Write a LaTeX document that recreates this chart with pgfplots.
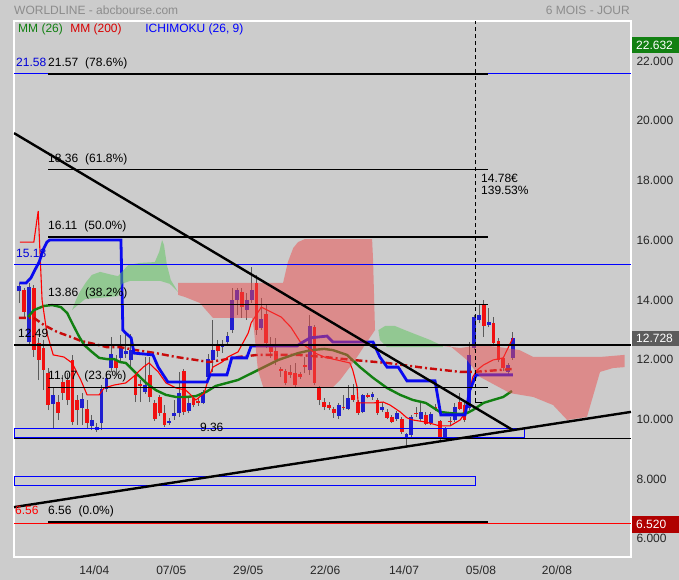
\documentclass[border=0pt]{standalone}
\usepackage{pgfplots}
\pgfplotsset{compat=1.18}
\usepackage{pgfplotstable}
\usepackage{fontspec}
\setmainfont{Liberation Sans}

\definecolor{bg}{HTML}{CCCCCC}
\definecolor{candleup}{HTML}{1F1FD0}
\definecolor{candledn}{HTML}{F01010}
\definecolor{wick}{HTML}{5A5A5A}
\definecolor{kijun}{HTML}{0A0AF0}
\definecolor{mmgreen}{HTML}{128012}
\definecolor{mmred}{HTML}{C80A0A}
\definecolor{cloudred}{HTML}{EC4C4C}
\definecolor{cloudgreen}{HTML}{5AC65A}
\definecolor{titlegray}{HTML}{8C8C8C}
\definecolor{boxgray}{HTML}{5C5C5C}
\definecolor{boxred}{HTML}{B00000}
\newcommand{\fs}{\fontsize{12}{14}\selectfont}

% candles: k = trading day index, open / high / low / close
\pgfplotstableread{
k o h l c
0 14.30 14.57 13.90 14.47
2 12.59 14.57 12.49 14.43
7 10.52 11.08 9.71 10.82
13 10.38 10.88 9.81 10.68
15 9.78 10.15 9.64 9.98
16 9.64 9.88 9.58 9.75
17 9.88 11.15 9.64 11.02
18 11.02 11.59 10.92 11.39
19 11.72 12.76 11.59 12.19
21 12.06 12.83 11.95 12.39
22 12.19 12.89 12.05 12.29
23 11.99 12.86 11.75 12.32
26 10.92 12.09 10.85 11.15
31 9.88 10.05 9.81 9.95
32 10.11 10.65 9.98 10.21
33 10.21 11.59 10.08 10.88
35 10.28 10.70 10.20 10.55
38 10.55 11.00 10.50 10.92
39 11.42 12.20 11.35 12.02
40 11.99 13.33 11.60 12.32
42 12.42 12.66 12.22 12.49
43 12.59 12.93 12.50 12.79
44 12.99 14.40 12.90 14.00
45 14.00 14.40 13.50 14.33
47 13.66 14.23 13.33 14.00
48 14.00 15.10 13.90 14.33
50 13.06 14.07 12.99 13.36
60 11.65 13.50 11.49 13.13
66 10.11 10.55 10.01 10.48
68 10.35 11.15 10.31 10.72
71 10.25 10.85 10.20 10.82
73 10.75 10.92 10.65 10.85
75 10.31 10.58 10.25 10.42
78 10.01 10.28 9.95 10.21
80 9.41 9.55 9.07 9.51
81 9.48 10.15 9.41 10.08
83 10.01 10.55 9.95 10.25
85 9.88 10.25 9.81 10.18
88 9.41 9.75 9.35 9.71
90 9.98 10.55 9.91 10.42
93 10.38 12.59 10.31 12.16
94 12.39 13.50 12.32 13.43
95 13.33 13.83 13.23 13.50
97 13.16 13.73 13.09 13.26
101 11.59 11.89 11.52 11.82
102 12.06 12.93 11.99 12.73
}\up

\pgfplotstableread{
k o h l c
1 14.33 14.40 13.43 13.60
3 14.40 14.50 12.09 12.32
4 12.56 12.73 11.32 11.99
5 12.39 12.66 10.98 11.65
6 11.55 11.72 10.31 10.48
8 10.58 10.82 9.98 10.21
9 11.25 11.49 10.65 10.88
10 11.32 11.55 10.48 10.65
11 11.99 12.16 9.81 9.91
12 10.65 10.82 9.81 10.31
14 10.35 10.65 9.71 9.88
20 11.99 12.16 11.49 11.72
24 11.49 11.55 10.58 10.82
25 11.17 11.32 10.58 11.13
27 11.49 12.09 10.58 10.75
28 10.55 10.65 9.95 10.01
29 10.75 10.80 10.10 10.21
30 10.21 10.48 9.75 9.81
34 11.62 11.69 10.15 10.25
36 10.72 10.82 10.40 10.48
37 10.60 10.72 10.45 10.56
41 12.52 12.66 12.10 12.29
46 14.27 14.40 13.40 13.76
49 14.57 14.84 12.83 12.99
51 13.53 13.83 12.39 12.56
52 12.46 12.76 12.06 12.26
53 12.29 12.73 11.82 11.99
54 11.69 11.75 11.42 11.62
55 11.62 11.69 11.15 11.22
56 11.59 11.82 11.39 11.49
57 11.55 11.89 11.08 11.15
58 11.52 11.60 11.35 11.42
59 11.82 12.09 11.55 11.75
61 13.09 13.16 11.15 11.22
62 11.05 11.12 10.48 10.65
63 10.58 10.72 10.31 10.42
64 10.48 10.58 10.31 10.38
65 10.35 10.42 10.05 10.21
67 10.42 10.82 10.31 10.38
69 10.82 11.19 10.58 10.65
70 10.58 10.65 10.15 10.21
72 10.82 10.88 10.70 10.75
74 10.65 10.70 10.15 10.21
76 10.25 10.35 10.00 10.05
77 10.08 10.15 9.88 9.91
79 10.01 10.08 9.51 9.58
82 10.21 10.42 10.08 10.17
84 10.15 10.25 9.80 9.85
86 10.42 10.50 10.28 10.35
87 9.95 9.98 9.31 9.41
89 9.95 10.08 9.81 9.91
91 10.58 10.88 10.31 10.35
92 10.48 10.55 9.91 9.98
96 13.83 14.00 12.76 13.13
98 13.23 13.43 12.49 12.56
99 12.63 12.73 11.92 11.99
100 12.06 12.09 11.62 11.72
}\dn

\begin{document}
\begin{tikzpicture}
\fill[bg] (0pt,0pt) rectangle (679pt,580pt);

\begin{axis}[
  at={(14pt,23pt)}, anchor=south west,
  width=617pt, height=536pt, scale only axis,
  xmin=-1.1, xmax=126.4, ymin=5.389, ymax=23.346,
  axis line style={white, line width=1.4pt},
  tick style={draw=none},
  ytick={6,8,...,22},
  yticklabels={6.000,8.000,10.000,12.000,14.000,16.000,18.000,20.000,22.000},
  yticklabel pos=right,
  yticklabel style={xshift=2pt},
  xtick={15.5,31.4,47.3,63.2,79.5,95.4,111.1},
  xticklabels={14/04,07/05,29/05,22/06,14/07,05/08,20/08},
  xticklabel style={yshift=-5pt},
  ticklabel style={font=\fs, text=black!85},
]

% wicks
\addplot[quiver={u=0, v=\thisrow{h}-\thisrow{l}}, wick, line width=1pt] table[x=k, y=l] {\up};
\addplot[quiver={u=0, v=\thisrow{h}-\thisrow{l}}, wick, line width=1pt] table[x=k, y=l] {\dn};
% bodies
\addplot[quiver={u=0, v=\thisrow{c}-\thisrow{o}}, candleup, line width=3.8pt] table[x=k, y=o] {\up};
\addplot[quiver={u=0, v=\thisrow{c}-\thisrow{o}}, candledn, line width=3.8pt] table[x=k, y=o] {\dn};

% MM 200
\addplot[mmred, line width=2.4pt, dash pattern=on 7pt off 3pt on 2pt off 3pt] coordinates {
(-0.1,13.40) (3.0,13.40) (5.1,13.16) (7.8,12.93) (10.7,12.76) (12.7,12.63) (15.4,12.53)
(18.1,12.42) (20.8,12.42) (24.1,12.32) (28.2,12.22) (32.4,12.09) (36.5,11.99) (39.2,11.92)
(41.9,11.99) (45.2,12.09) (49.3,12.16) (57.6,12.16) (63.0,12.09) (68.9,11.99) (76.0,11.89)
(84.0,11.72) (91.1,11.59) (93.7,11.59) (96.6,11.62) (102,11.69)};

% MM 26
\addplot[mmgreen, line width=2.4pt] coordinates {
(1.8,13.43) (3.0,13.66) (5.1,13.80) (6.8,13.83) (8.6,13.76) (9.9,13.56) (10.9,13.23)
(12.3,12.79) (13.4,12.49) (15.0,12.26) (16.5,12.06) (18.1,12.02) (19.6,12.02) (20.8,11.92)
(22.0,11.89) (24.1,11.55) (26.2,11.22) (28.2,10.98) (30.3,10.82) (32.4,10.75) (34.4,10.75)
(36.5,10.78) (38.6,10.92) (40.6,11.12) (45.2,11.32) (49.3,11.65) (53.5,11.99) (57.6,12.22)
(60.3,12.32) (63.0,12.36) (64.8,12.32) (67.7,12.16) (70.4,11.75) (73.1,11.39) (76.0,11.05)
(78.7,10.82) (81.3,10.65) (84.0,10.55) (86.9,10.25) (89.0,10.21) (91.1,10.18) (92.5,10.21)
(93.7,10.31) (95.9,10.55) (97.9,10.65) (100,10.75) (101.8,10.95)};

% Ichimoku: tenkan (red, thin)
\addplot[red, line width=1.1pt] coordinates {
(0.1,15.94) (3.0,15.94) (3.9,16.98) (4.7,14.00) (5.7,12.89) (7.0,12.16) (9.2,12.09)
(10.9,11.89) (12.7,11.32) (14.0,10.82) (16.5,10.82) (17.5,11.05) (19.6,11.15) (22.0,11.22)
(23.5,11.42) (25.6,11.75) (26.8,11.89) (28.7,11.59) (30.3,11.22) (32.4,11.05) (34.4,10.98)
(36.5,10.65) (38.2,10.88) (39.2,11.42) (40.0,11.75) (41.9,11.92) (43.1,12.09) (45.2,12.26)
(47.3,12.89) (47.9,13.23) (50.0,13.76) (52.0,13.60) (54.1,13.43) (56.1,13.09) (58.2,12.56)
(59.7,12.39) (61.1,12.22) (63.0,12.09) (64.8,12.02) (68.3,11.89) (68.9,11.65) (69.8,11.08)
(70.0,10.55) (73.1,10.55) (75.2,10.58) (76.6,10.48) (78.7,10.25) (80.1,10.05) (81.3,9.98)
(84.0,9.91) (86.9,9.78) (89.0,9.78) (91.1,9.98) (92.1,10.21) (93.1,10.98) (93.7,11.42)
(94.6,11.65) (95.9,11.82) (97.9,11.99) (100,12.06) (102,12.73)};

% Ichimoku: kijun (blue, thick)
\addplot[kijun, line width=2.8pt] coordinates {
(0,14.57) (1.4,14.57) (2.4,14.74) (3.2,15.00) (4.1,15.27) (4.9,15.67) (5.7,15.94) (6.3,16.01)
(21.0,16.01) (21.4,12.99) (22.0,12.89) (23.1,12.73) (23.7,12.22) (27.6,12.16) (28.7,11.75)
(30.7,11.25) (38.8,11.25) (39.4,11.49) (42.9,11.49) (43.9,12.06) (47.0,12.06) (47.9,12.46)
(57.4,12.46) (58.6,12.59) (60.1,12.73) (63.6,12.79) (64.8,12.59) (73.1,12.59) (74.5,12.09)
(76.0,11.75) (78.3,11.75) (80.1,11.29) (85.9,11.29) (87.1,10.15) (92.1,10.15) (93.1,10.98)
(94.4,11.49) (102,11.49)};

% Ichimoku cloud
\addplot[draw=none, fill=cloudgreen, fill opacity=0.5] coordinates {
(10.9,13.66) (11.7,14.00) (12.5,14.27) (13.8,14.60) (15.0,14.84) (16.7,14.94) (19.2,14.84)
(20.4,14.80) (21.2,14.94) (22.5,15.17) (24.9,15.24) (28.0,15.27) (28.9,15.61) (29.5,16.01)
(29.9,15.84) (30.5,15.17) (31.3,14.67) (32.2,14.43) (32.8,14.27) (31.1,14.54) (29.1,14.64)
(22.9,14.64) (21.2,14.54) (20.4,14.13) (16.7,14.07) (13.6,14.03) (12.1,13.83)};
\addplot[draw=none, fill=cloudred, fill opacity=0.5] coordinates {
(32.8,14.57) (54.5,14.57) (55.5,15.27) (56.6,15.74) (57.6,15.94) (59.0,16.04) (72.9,16.04)
(73.1,15.34) (73.5,12.99) (71.4,12.49) (69.8,12.09) (68.3,11.75) (66.3,11.32) (64.8,11.08)
(50.4,11.08) (49.3,11.65) (48.5,12.99) (48.1,13.40) (40.0,13.40) (37.3,13.90) (34.2,14.10)
(32.8,14.17)};
\addplot[draw=none, fill=cloudgreen, fill opacity=0.5] coordinates {
(74.2,12.99) (75.6,13.13) (77.6,13.13) (79.7,12.99) (82.2,12.83) (84.9,12.66) (87.5,12.46)
(87.5,12.42) (76.0,12.42) (74.5,12.66)};
\addplot[draw=none, fill=cloudred, fill opacity=0.5] coordinates {
(87.5,12.46) (91.1,12.39) (95.2,12.49) (99.3,12.42) (103.4,12.32) (106.2,12.09) (111.7,12.09)
(120,12.09) (125.1,12.16) (125.1,11.75) (122.7,11.72) (120,11.59) (117.3,10.08) (113.2,9.98)
(110.3,10.48) (106.2,10.75) (101.4,10.88) (95.2,11.42) (92.5,11.99) (89.0,12.46)};

% horizontal levels
\addplot[blue, line width=1pt] coordinates {(-1.1,21.58) (126.4,21.58)};
\addplot[blue, line width=1pt] coordinates {(-1.1,15.18) (126.4,15.18)};
\addplot[red, line width=1pt] coordinates {(-1.1,6.52) (126.4,6.52)};
\addplot[black, line width=1.2pt] coordinates {(-1.1,12.49) (126.4,12.49)};
\addplot[black, line width=1.2pt] coordinates {(-1.1,9.36) (126.4,9.36)};
\addplot[black, line width=1.3pt] coordinates {(5.93,21.57) (96.8,21.57)};
\addplot[black, line width=1.2pt] coordinates {(5.93,18.36) (96.8,18.36)};
\addplot[black, line width=1.2pt] coordinates {(5.93,16.11) (96.8,16.11)};
\addplot[black, line width=1.2pt] coordinates {(5.93,13.86) (96.8,13.86)};
\addplot[black, line width=1.2pt] coordinates {(5.93,11.07) (96.8,11.07)};
\addplot[black, line width=1.2pt] coordinates {(5.93,6.56) (96.8,6.56)};
\addplot[blue, line width=1pt] coordinates {(-1.0,9.38) (104.3,9.38) (104.3,9.68) (-1.0,9.68) (-1.0,9.38)};
\addplot[blue, line width=1pt] coordinates {(-1.0,7.80) (94.2,7.80) (94.2,8.10) (-1.0,8.10) (-1.0,7.80)};

% trend lines
\addplot[black, line width=2.4pt] coordinates {(-1.1,19.59) (102,9.64)};
\addplot[black, line width=2.4pt] coordinates {(-1.1,7.06) (126.4,10.25)};

% measure
\addplot[black, line width=0.9pt, dash pattern=on 4pt off 3pt] coordinates {(94.2,10.58) (94.2,23.34)};
\addplot[black, line width=1pt] coordinates {(94.2,10.58) (95.6,10.58)};

% labels
\begin{scope}[every node/.style={inner sep=0pt, anchor=base west, font=\fs}]
\node[text=blue!85!black] at (axis cs:-0.68,21.83) {21.58};
\node at (axis cs:5.93,21.82) {21.57\hspace{7pt}(78.6\%)};
\node at (axis cs:5.93,18.61) {18.36\hspace{7pt}(61.8\%)};
\node at (axis cs:5.93,16.36) {16.11\hspace{7pt}(50.0\%)};
\node[text=blue!85!black] at (axis cs:-0.68,15.43) {15.18};
\node at (axis cs:5.93,14.11) {13.86\hspace{7pt}(38.2\%)};
\node at (axis cs:-0.27,12.74) {12.49};
\node at (axis cs:5.93,11.32) {11.07\hspace{7pt}(23.6\%)};
\node at (axis cs:37.3,9.61) {9.36};
\node[text=red] at (axis cs:-0.9,6.81) {6.56};
\node at (axis cs:5.93,6.81) {6.56\hspace{7pt}(0.0\%)};
\node at (axis cs:95.4,17.94) {14.78€};
\node at (axis cs:95.4,17.53) {139.53\%};
\node[text=mmgreen] at (axis cs:-0.27,22.96) {MM (26)};
\node[text=red!85!black] at (axis cs:10.5,22.96) {MM (200)};
\node[text=blue] at (axis cs:26.0,22.96) {ICHIMOKU (26, 9)};
\end{scope}
\end{axis}

% header
\node[anchor=west, inner sep=0pt, font=\fs, text=titlegray] at (14pt,570pt) {WORLDLINE - abcbourse.com};
\node[anchor=east, inner sep=0pt, font=\fs, text=titlegray] at (630pt,570pt) {6 MOIS - JOUR};

% price boxes on the right
\fill[mmgreen] (632pt,527.3pt) rectangle (679pt,542.7pt);
\node[anchor=west, inner sep=0pt, font=\fs, text=white] at (636pt,535pt) {22.632};
\fill[boxgray] (632pt,234pt) rectangle (679pt,249.3pt);
\node[anchor=west, inner sep=0pt, font=\fs, text=white] at (636pt,241.6pt) {12.728};
\fill[boxred] (632pt,47.3pt) rectangle (679pt,64.3pt);
\node[anchor=west, inner sep=0pt, font=\fs, text=white] at (636pt,55.8pt) {6.520};
\end{tikzpicture}
\end{document}
